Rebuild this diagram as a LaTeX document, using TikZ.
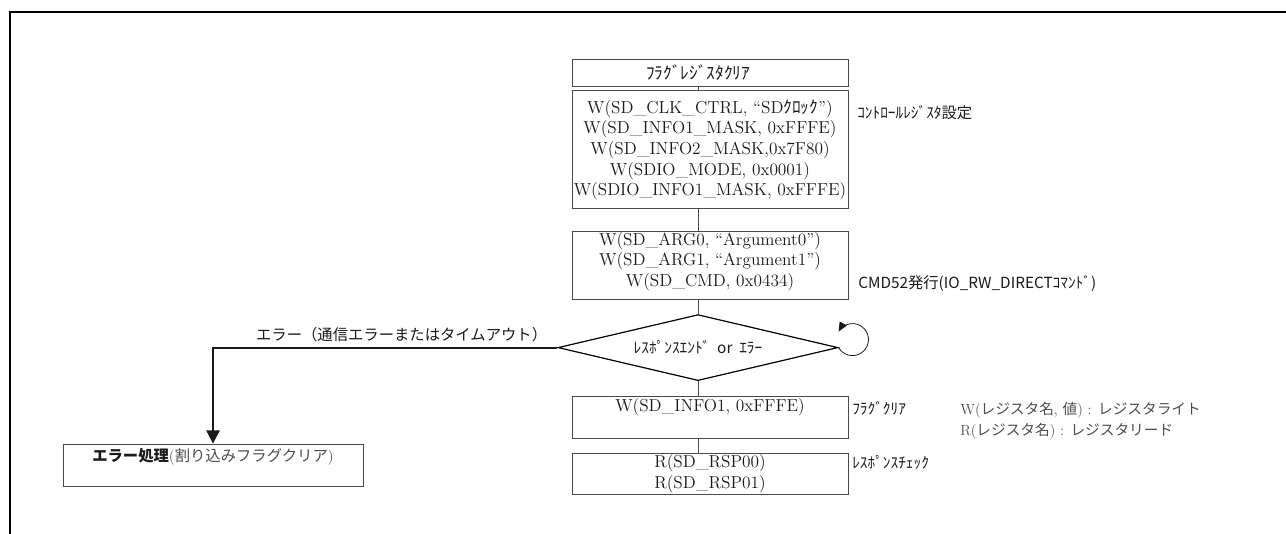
\documentclass[tikz,border=0pt]{standalone}
\usepackage{fontspec}
\usepackage{xcolor}
\usetikzlibrary{positioning, arrows.meta, shapes.geometric}
\newfontfamily\jp{Noto Sans CJK JP}
\definecolor{Box_Gray}{HTML}{4A4A4A}
\definecolor{Text_Dark}{HTML}{1A1A1A}
\definecolor{Text_Gray}{HTML}{4D4D4D}
\newcommand{\boxfont}{\fontsize{13}{15.5}\selectfont}
\newcommand{\notefont}{\fontsize{11.5}{14}\selectfont\jp}

\begin{document}
\begin{tikzpicture}[
  x=0.75pt, y=-0.75pt,
  box/.style={draw=Box_Gray, line width=0.6pt, minimum width=207pt, inner sep=0pt,
    font=\boxfont, text=Text_Dark, align=center},
  decision/.style={diamond, aspect=4.24, draw=black, line width=0.9pt, minimum width=210pt,
    minimum height=49.5pt, inner sep=0pt, font=\notefont, text=Text_Dark},
  note/.style={anchor=west, inner sep=0pt, font=\notefont, text=Text_Dark},
  link/.style={draw=Box_Gray, line width=0.6pt},
  errarr/.style={-{Triangle[length=10pt, width=10pt]}, line width=1.4pt, Text_Dark},
  selfarr/.style={-{Triangle[length=7pt, width=6pt]}, line width=0.6pt, Text_Dark},
  frame/.style={line width=1.3pt, black}
]
  \useasboundingbox (0,0) rectangle (1286,534);
  % Page frame
  \draw[frame] (1286,12) -- (10,12) -- (10,534);

  % Flag register clear
  \node[box, minimum height=20.25pt] (flagclr) at (710,72.5) {\jp ﾌﾗｸﾞﾚｼﾞｽﾀｸﾘｱ\hspace{18pt}};

  % Control register setup
  \node[box, below=3pt of flagclr, minimum height=88.5pt] (ctrl)
    {W(SD\_CLK\_CTRL, “SD{\jp ｸﾛｯｸ}”)\\
     W(SD\_INFO1\_MASK, 0xFFFE)\\
     W(SD\_INFO2\_MASK,0x7F80)\\
     W(SDIO\_MODE, 0x0001)\\
     W(SDIO\_INFO1\_MASK, 0xFFFE)};

  % CMD52
  \node[box, below=16.5pt of ctrl, minimum height=51pt] (cmd) {};
  \node[font=\boxfont, text=Text_Dark, align=center] at ([yshift=3pt]cmd.center)
    {W(SD\_ARG0, “Argument0”)\\
     W(SD\_ARG1, “Argument1”)\\
     W(SD\_CMD, 0x0434)};

  % Response end or error
  \node[decision, below=10.5pt of cmd, xshift=-9pt] (resp) {ﾚｽﾎﾟﾝｽｴﾝﾄﾞ\ \ or\ \ ｴﾗｰ};

  % Flag clear
  \node[box, below=11pt of resp, xshift=9pt, minimum height=31.5pt] (flag) {};
  \node[font=\boxfont, text=Text_Dark] at ([yshift=-8.25pt]flag.north) {W(SD\_INFO1, 0xFFFE)};

  % Response check
  \node[box, below=10.5pt of flag, minimum height=31pt] (rsp)
    {R(SD\_RSP00)\\R(SD\_RSP01)};

  % Error handling
  \node[box, minimum width=225pt, minimum height=31.5pt] (err) at (213,465) {};
  \node[inner sep=0pt, font=\fontsize{11.5}{14}\selectfont] at ([yshift=6pt]err.center)
    {{\jp\bfseries\color{Text_Dark}エラー処理}{\color{Text_Gray}({\jp 割り込みフラグクリア})}};

  % Side notes
  \node[note] (ctrlnote) at (857,113) {ｺﾝﾄﾛｰﾙﾚｼﾞｽﾀ設定};
  \node[note] (cmdnote) at (858,283) {CMD52発行(IO\_RW\_DIRECTｺﾏﾝﾄﾞ)};
  \node[note] (flagnote) at (852,408) {ﾌﾗｸﾞｸﾘｱ};
  \node[note] (rspnote) at (852,462) {ﾚｽﾎﾟﾝｽﾁｪｯｸ};

  % Legend
  \node[anchor=west, inner sep=0pt, align=left, text=Text_Gray,
    font=\fontsize{11}{15.75}\selectfont] (legend) at (960,420.5)
    {W({\jp レジスタ名}, {\jp 値}) : {\jp レジスタライト}\\
     R({\jp レジスタ名}) : {\jp レジスタリード}};

  % Connectors
  \draw[link] (flagclr.south -| resp.north) -- (ctrl.north -| resp.north);
  \draw[link] (ctrl.south -| resp.north) -- (cmd.north -| resp.north);
  \draw[link] (cmd.south -| resp.north) -- (resp.north);
  \draw[link] (resp.south) -- (flag.north -| resp.south);
  \draw[link] (flag.south -| resp.south) -- (rsp.north -| resp.south);

  % Error branch
  \draw[errarr] (resp.west) -| (err.north);
  \node[anchor=south east, inner sep=0pt, font=\notefont, text=Text_Dark] (errlbl)
    at ([xshift=-7.5pt, yshift=4pt]resp.west) {エラー（通信エラーまたはタイムアウト）};

  % Wait loop
  \draw[selfarr] (resp.east) arc[start angle=-150, end angle=150, radius=12pt];
\end{tikzpicture}
\end{document}
